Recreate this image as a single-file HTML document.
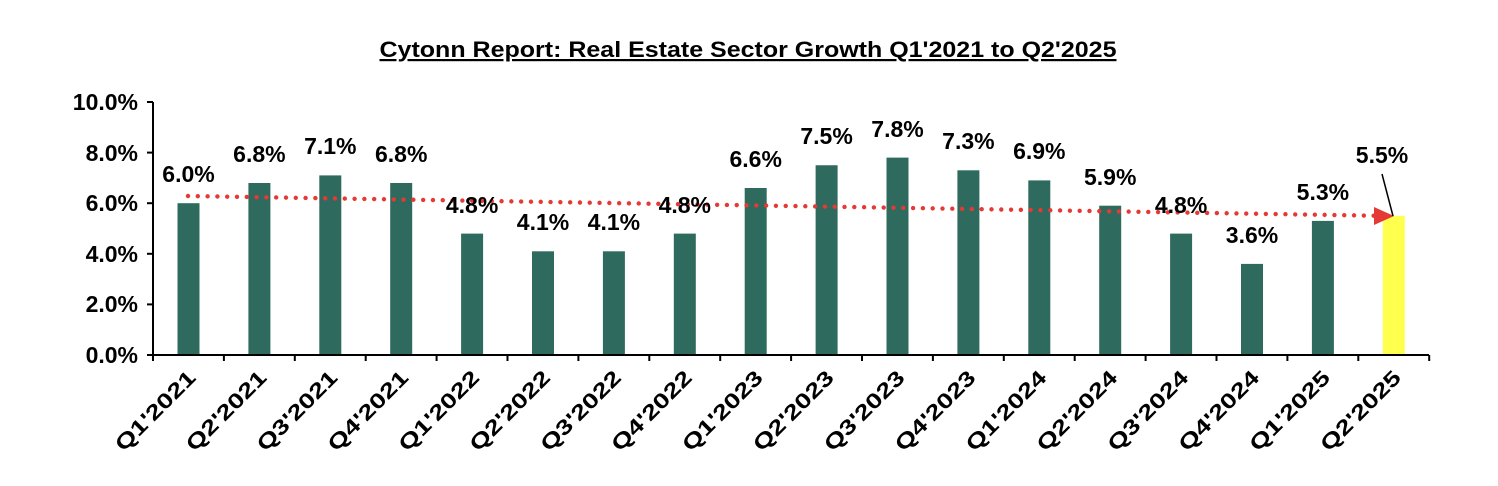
<!DOCTYPE html>
<html><head><meta charset="utf-8"><style>body{margin:0;background:#fff}svg{display:block}text{font-family:"Liberation Sans",sans-serif;font-weight:bold;fill:#000}</style></head>
<body>
<svg width="1498" height="486" viewBox="0 0 1498 486" xmlns="http://www.w3.org/2000/svg">
<rect width="1498" height="486" fill="#fff"/>
<text x="748" y="57" text-anchor="middle" font-size="22" text-decoration="underline" textLength="737" lengthAdjust="spacingAndGlyphs">Cytonn Report: Real Estate Sector Growth Q1'2021 to Q2'2025</text>
<g font-size="23" text-anchor="end">
<text x="138" y="110">10.0%</text><text x="138" y="161">8.0%</text><text x="138" y="211">6.0%</text><text x="138" y="262">4.0%</text><text x="138" y="312">2.0%</text><text x="138" y="363">0.0%</text>
</g>
<g stroke="#000" stroke-width="2">
<line x1="147" y1="102" x2="153" y2="102"/><line x1="147" y1="152.6" x2="153" y2="152.6"/><line x1="147" y1="203.2" x2="153" y2="203.2"/><line x1="147" y1="253.8" x2="153" y2="253.8"/><line x1="147" y1="304.4" x2="153" y2="304.4"/>
</g>
<g fill="#2e6b5e">
<rect x="177.5" y="203.2" width="22" height="151.8"/>
<rect x="248.4" y="183" width="22" height="172"/>
<rect x="319.3" y="175.4" width="22" height="179.6"/>
<rect x="390.2" y="183" width="22" height="172"/>
<rect x="461.1" y="233.6" width="22" height="121.4"/>
<rect x="532" y="251.3" width="22" height="103.7"/>
<rect x="602.9" y="251.3" width="22" height="103.7"/>
<rect x="673.8" y="233.6" width="22" height="121.4"/>
<rect x="744.7" y="188" width="22" height="167"/>
<rect x="815.6" y="165.25" width="22" height="189.75"/>
<rect x="886.5" y="157.6" width="22" height="197.4"/>
<rect x="957.4" y="170.3" width="22" height="184.7"/>
<rect x="1028.3" y="180.4" width="22" height="174.6"/>
<rect x="1099.2" y="205.7" width="22" height="149.3"/>
<rect x="1170.1" y="233.6" width="22" height="121.4"/>
<rect x="1241" y="263.9" width="22" height="91.1"/>
<rect x="1311.9" y="220.9" width="22" height="134.1"/>
</g>
<rect x="1382.8" y="215.85" width="22" height="139.15" fill="#ffff4d"/>
<line x1="188" y1="196" x2="1374" y2="215.7" stroke="#e53935" stroke-width="4.4" stroke-linecap="round" stroke-dasharray="0 9.8"/>
<polygon points="1374,207 1394,216 1374,225" fill="#e53935"/>
<g font-size="23" text-anchor="middle">
<text x="188.5" y="182">6.0%</text>
<text x="259.4" y="162">6.8%</text>
<text x="330.3" y="154">7.1%</text>
<text x="401.2" y="162">6.8%</text>
<text x="472.1" y="213">4.8%</text>
<text x="543" y="230">4.1%</text>
<text x="613.9" y="230">4.1%</text>
<text x="684.8" y="213">4.8%</text>
<text x="755.7" y="167">6.6%</text>
<text x="826.6" y="144">7.5%</text>
<text x="897.5" y="137">7.8%</text>
<text x="968.4" y="149">7.3%</text>
<text x="1039.3" y="159">6.9%</text>
<text x="1110.2" y="185">5.9%</text>
<text x="1181.1" y="213">4.8%</text>
<text x="1252" y="243">3.6%</text>
<text x="1322.9" y="200">5.3%</text>
<text x="1382" y="163">5.5%</text>
</g>
<line x1="1382" y1="174" x2="1393" y2="216" stroke="#000" stroke-width="1.5"/>
<g stroke="#000" stroke-width="2">
<line x1="153" y1="102" x2="153" y2="361"/>
<line x1="147" y1="355" x2="1429" y2="355"/>
<line x1="223.9" y1="355" x2="223.9" y2="361"/><line x1="294.8" y1="355" x2="294.8" y2="361"/><line x1="365.7" y1="355" x2="365.7" y2="361"/><line x1="436.6" y1="355" x2="436.6" y2="361"/><line x1="507.5" y1="355" x2="507.5" y2="361"/><line x1="578.4" y1="355" x2="578.4" y2="361"/><line x1="649.3" y1="355" x2="649.3" y2="361"/><line x1="720.2" y1="355" x2="720.2" y2="361"/><line x1="791.1" y1="355" x2="791.1" y2="361"/><line x1="862" y1="355" x2="862" y2="361"/><line x1="932.9" y1="355" x2="932.9" y2="361"/><line x1="1003.8" y1="355" x2="1003.8" y2="361"/><line x1="1074.7" y1="355" x2="1074.7" y2="361"/><line x1="1145.6" y1="355" x2="1145.6" y2="361"/><line x1="1216.5" y1="355" x2="1216.5" y2="361"/><line x1="1287.4" y1="355" x2="1287.4" y2="361"/><line x1="1358.3" y1="355" x2="1358.3" y2="361"/><line x1="1429.2" y1="355" x2="1429.2" y2="361"/>
</g>
<g font-size="21" text-anchor="end">
<text transform="translate(197,379) rotate(-45)" textLength="104" lengthAdjust="spacingAndGlyphs">Q1'2021</text>
<text transform="translate(267.9,379) rotate(-45)" textLength="104" lengthAdjust="spacingAndGlyphs">Q2'2021</text>
<text transform="translate(338.8,379) rotate(-45)" textLength="104" lengthAdjust="spacingAndGlyphs">Q3'2021</text>
<text transform="translate(409.7,379) rotate(-45)" textLength="104" lengthAdjust="spacingAndGlyphs">Q4'2021</text>
<text transform="translate(480.6,379) rotate(-45)" textLength="104" lengthAdjust="spacingAndGlyphs">Q1'2022</text>
<text transform="translate(551.5,379) rotate(-45)" textLength="104" lengthAdjust="spacingAndGlyphs">Q2'2022</text>
<text transform="translate(622.4,379) rotate(-45)" textLength="104" lengthAdjust="spacingAndGlyphs">Q3'2022</text>
<text transform="translate(693.3,379) rotate(-45)" textLength="104" lengthAdjust="spacingAndGlyphs">Q4'2022</text>
<text transform="translate(764.2,379) rotate(-45)" textLength="104" lengthAdjust="spacingAndGlyphs">Q1'2023</text>
<text transform="translate(835.1,379) rotate(-45)" textLength="104" lengthAdjust="spacingAndGlyphs">Q2'2023</text>
<text transform="translate(906,379) rotate(-45)" textLength="104" lengthAdjust="spacingAndGlyphs">Q3'2023</text>
<text transform="translate(976.9,379) rotate(-45)" textLength="104" lengthAdjust="spacingAndGlyphs">Q4'2023</text>
<text transform="translate(1047.8,379) rotate(-45)" textLength="104" lengthAdjust="spacingAndGlyphs">Q1'2024</text>
<text transform="translate(1118.7,379) rotate(-45)" textLength="104" lengthAdjust="spacingAndGlyphs">Q2'2024</text>
<text transform="translate(1189.6,379) rotate(-45)" textLength="104" lengthAdjust="spacingAndGlyphs">Q3'2024</text>
<text transform="translate(1260.5,379) rotate(-45)" textLength="104" lengthAdjust="spacingAndGlyphs">Q4'2024</text>
<text transform="translate(1331.4,379) rotate(-45)" textLength="104" lengthAdjust="spacingAndGlyphs">Q1'2025</text>
<text transform="translate(1402.3,379) rotate(-45)" textLength="104" lengthAdjust="spacingAndGlyphs">Q2'2025</text>
</g>
</svg>
</body></html>
